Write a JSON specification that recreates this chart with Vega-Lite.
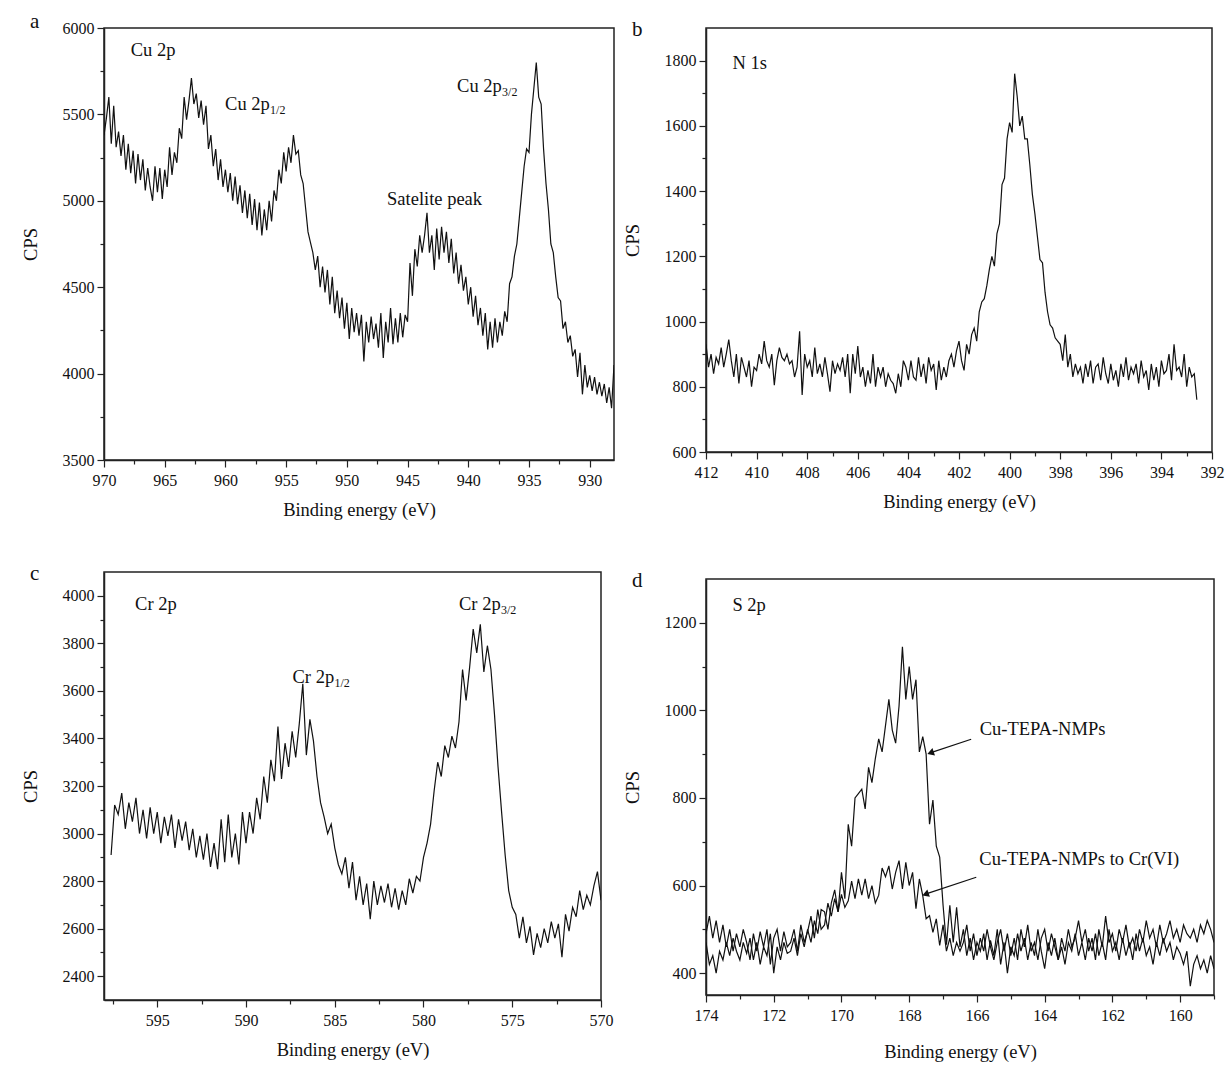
{
"$schema": "https://vega.github.io/schema/vega-lite/v6.json",
"background": "white",
"padding": {"left": 20, "top": 10, "right": 5, "bottom": 5},
"config": {
  "font": "Liberation Serif",
  "view": {"stroke": "#222", "strokeWidth": 1.5},
  "axis": {"grid": false, "domainColor": "#222", "domainWidth": 1.5, "tickColor": "#222", "tickWidth": 1.2, "labelFont": "Liberation Serif", "labelFontSize": 16, "labelColor": "#111", "titleFont": "Liberation Serif", "titleFontSize": 18.5, "titleFontWeight": "normal", "titleColor": "#111", "labelOverlap": false, "labelFlush": false},
  "title": {"font": "Liberation Serif", "fontSize": 21, "fontWeight": "normal", "anchor": "start", "frame": "bounds", "offset": 0, "baseline": "alphabetic", "dx": 9, "dy": 16, "color": "#111"},
  "line": {"color": "#111", "strokeWidth": 1.2},
  "text": {"font": "Liberation Serif", "color": "#111"}
},
"datasets": {
"a": [
{"e":970.0,"c":5380},{"e":969.8,"c":5480},{"e":969.6,"c":5600},{"e":969.4,"c":5330},{"e":969.2,"c":5550},{"e":969.0,"c":5310},{"e":968.8,"c":5400},{"e":968.6,"c":5260},{"e":968.4,"c":5380},{"e":968.2,"c":5180},{"e":968.0,"c":5330},{"e":967.8,"c":5160},{"e":967.6,"c":5290},{"e":967.4,"c":5100},{"e":967.2,"c":5270},{"e":967.0,"c":5120},{"e":966.8,"c":5240},{"e":966.6,"c":5060},{"e":966.4,"c":5190},{"e":966.2,"c":5080},{"e":966.0,"c":5000},{"e":965.8,"c":5200},{"e":965.6,"c":5050},{"e":965.4,"c":5190},{"e":965.2,"c":5010},{"e":965.0,"c":5180},{"e":964.8,"c":5080},{"e":964.6,"c":5310},{"e":964.4,"c":5150},{"e":964.2,"c":5280},{"e":964.0,"c":5220},{"e":963.8,"c":5420},{"e":963.6,"c":5360},{"e":963.4,"c":5600},{"e":963.2,"c":5470},{"e":963.0,"c":5580},{"e":962.8,"c":5710},{"e":962.6,"c":5560},{"e":962.4,"c":5620},{"e":962.2,"c":5480},{"e":962.0,"c":5580},{"e":961.8,"c":5440},{"e":961.6,"c":5550},{"e":961.4,"c":5300},{"e":961.2,"c":5380},{"e":961.0,"c":5200},{"e":960.8,"c":5300},{"e":960.6,"c":5120},{"e":960.4,"c":5240},{"e":960.2,"c":5080},{"e":960.0,"c":5180},
{"e":959.8,"c":5050},{"e":959.6,"c":5160},{"e":959.4,"c":5000},{"e":959.2,"c":5140},{"e":959.0,"c":4980},{"e":958.8,"c":5090},{"e":958.6,"c":4930},{"e":958.4,"c":5060},{"e":958.2,"c":4900},{"e":958.0,"c":5040},{"e":957.8,"c":4860},{"e":957.6,"c":5010},{"e":957.4,"c":4830},{"e":957.2,"c":4990},{"e":957.0,"c":4800},{"e":956.8,"c":4950},{"e":956.6,"c":4830},{"e":956.4,"c":5000},{"e":956.2,"c":4880},{"e":956.0,"c":5060},{"e":955.8,"c":5000},{"e":955.6,"c":5180},{"e":955.4,"c":5100},{"e":955.2,"c":5280},{"e":955.0,"c":5170},{"e":954.8,"c":5310},{"e":954.6,"c":5220},{"e":954.4,"c":5380},{"e":954.2,"c":5270},{"e":954.0,"c":5290},{"e":953.8,"c":5150},{"e":953.6,"c":5100},{"e":953.4,"c":4960},{"e":953.2,"c":4820},{"e":953.0,"c":4760},{"e":952.8,"c":4700},{"e":952.6,"c":4600},{"e":952.4,"c":4680},{"e":952.2,"c":4500},{"e":952.0,"c":4620},{"e":951.8,"c":4470},{"e":951.6,"c":4600},{"e":951.4,"c":4400},{"e":951.2,"c":4560},{"e":951.0,"c":4350},{"e":950.8,"c":4480},{"e":950.6,"c":4320},{"e":950.4,"c":4440},{"e":950.2,"c":4260},{"e":950.0,"c":4410},
{"e":949.8,"c":4200},{"e":949.6,"c":4380},{"e":949.4,"c":4240},{"e":949.2,"c":4350},{"e":949.0,"c":4220},{"e":948.8,"c":4340},{"e":948.6,"c":4070},{"e":948.4,"c":4300},{"e":948.2,"c":4180},{"e":948.0,"c":4330},{"e":947.8,"c":4200},{"e":947.6,"c":4290},{"e":947.4,"c":4150},{"e":947.2,"c":4350},{"e":947.0,"c":4090},{"e":946.8,"c":4300},{"e":946.6,"c":4180},{"e":946.4,"c":4380},{"e":946.2,"c":4170},{"e":946.0,"c":4320},{"e":945.8,"c":4180},{"e":945.6,"c":4350},{"e":945.4,"c":4210},{"e":945.2,"c":4340},{"e":945.0,"c":4300},{"e":944.8,"c":4640},{"e":944.6,"c":4450},{"e":944.4,"c":4720},{"e":944.2,"c":4620},{"e":944.0,"c":4800},{"e":943.8,"c":4700},{"e":943.6,"c":4800},{"e":943.4,"c":4930},{"e":943.2,"c":4700},{"e":943.0,"c":4800},{"e":942.8,"c":4600},{"e":942.6,"c":4840},{"e":942.4,"c":4660},{"e":942.2,"c":4850},{"e":942.0,"c":4700},{"e":941.8,"c":4820},{"e":941.6,"c":4640},{"e":941.4,"c":4780},{"e":941.2,"c":4580},{"e":941.0,"c":4700},{"e":940.8,"c":4520},{"e":940.6,"c":4630},{"e":940.4,"c":4480},{"e":940.2,"c":4560},{"e":940.0,"c":4400},
{"e":939.8,"c":4500},{"e":939.6,"c":4330},{"e":939.4,"c":4450},{"e":939.2,"c":4280},{"e":939.0,"c":4380},{"e":938.8,"c":4220},{"e":938.6,"c":4350},{"e":938.4,"c":4140},{"e":938.2,"c":4300},{"e":938.0,"c":4150},{"e":937.8,"c":4320},{"e":937.6,"c":4180},{"e":937.4,"c":4300},{"e":937.2,"c":4220},{"e":937.0,"c":4360},{"e":936.8,"c":4300},{"e":936.6,"c":4520},{"e":936.4,"c":4560},{"e":936.2,"c":4680},{"e":936.0,"c":4750},{"e":935.8,"c":4900},{"e":935.6,"c":5050},{"e":935.4,"c":5200},{"e":935.2,"c":5300},{"e":935.0,"c":5280},{"e":934.8,"c":5500},{"e":934.6,"c":5650},{"e":934.4,"c":5800},{"e":934.2,"c":5600},{"e":934.0,"c":5560},{"e":933.8,"c":5300},{"e":933.6,"c":5100},{"e":933.4,"c":4950},{"e":933.2,"c":4750},{"e":933.0,"c":4700},{"e":932.8,"c":4560},{"e":932.6,"c":4440},{"e":932.4,"c":4420},{"e":932.2,"c":4260},{"e":932.0,"c":4300},{"e":931.8,"c":4180},{"e":931.6,"c":4220},{"e":931.4,"c":4100},{"e":931.2,"c":4140},{"e":931.0,"c":3980},{"e":930.8,"c":4120},{"e":930.6,"c":3880},{"e":930.4,"c":4050},{"e":930.2,"c":3920},{"e":930.0,"c":3990},
{"e":929.8,"c":3900},{"e":929.6,"c":3980},{"e":929.4,"c":3880},{"e":929.2,"c":3950},{"e":929.0,"c":3870},{"e":928.8,"c":3940},{"e":928.6,"c":3830},{"e":928.4,"c":3920},{"e":928.2,"c":3800},{"e":928.0,"c":4050}
],
"ta": [{"e":967.8,"c":5872,"t":"Cu 2p"},{"e":960.03,"c":5558,"t":"Cu 2p"},{"e":946.69,"c":5011,"t":"Satelite peak"},{"e":940.92,"c":5667,"t":"Cu 2p"}],
"sa": [{"e":960.03,"c":5558,"t":"1/2"},{"e":940.92,"c":5667,"t":"3/2"}],
"b": [
{"e":412.0,"c":930},{"e":411.9,"c":860},{"e":411.8,"c":900},{"e":411.7,"c":840},{"e":411.6,"c":890},{"e":411.5,"c":870},{"e":411.4,"c":920},{"e":411.3,"c":860},{"e":411.2,"c":900},{"e":411.1,"c":945},{"e":411.0,"c":880},{"e":410.9,"c":830},{"e":410.8,"c":900},{"e":410.7,"c":810},{"e":410.6,"c":890},{"e":410.5,"c":860},{"e":410.4,"c":830},{"e":410.3,"c":880},{"e":410.2,"c":800},{"e":410.1,"c":860},{"e":410.0,"c":850},{"e":409.9,"c":900},{"e":409.8,"c":870},{"e":409.7,"c":940},{"e":409.6,"c":880},{"e":409.5,"c":860},{"e":409.4,"c":900},{"e":409.3,"c":805},{"e":409.2,"c":880},{"e":409.1,"c":920},{"e":409.0,"c":890},{"e":408.9,"c":880},{"e":408.8,"c":900},{"e":408.7,"c":870},{"e":408.6,"c":880},{"e":408.5,"c":830},{"e":408.4,"c":860},{"e":408.3,"c":970},{"e":408.2,"c":775},{"e":408.1,"c":900},{"e":408.0,"c":860},{"e":407.9,"c":880},{"e":407.8,"c":830},{"e":407.7,"c":920},{"e":407.6,"c":840},{"e":407.5,"c":870},{"e":407.4,"c":830},{"e":407.3,"c":890},{"e":407.2,"c":840},{"e":407.1,"c":785},
{"e":407.0,"c":880},{"e":406.9,"c":840},{"e":406.8,"c":870},{"e":406.7,"c":850},{"e":406.6,"c":890},{"e":406.5,"c":830},{"e":406.4,"c":900},{"e":406.3,"c":780},{"e":406.2,"c":900},{"e":406.1,"c":840},{"e":406.0,"c":925},{"e":405.9,"c":830},{"e":405.8,"c":860},{"e":405.7,"c":800},{"e":405.6,"c":850},{"e":405.5,"c":810},{"e":405.4,"c":900},{"e":405.3,"c":800},{"e":405.2,"c":860},{"e":405.1,"c":830},{"e":405.0,"c":860},{"e":404.9,"c":800},{"e":404.8,"c":840},{"e":404.7,"c":820},{"e":404.6,"c":810},{"e":404.5,"c":780},{"e":404.4,"c":840},{"e":404.3,"c":800},{"e":404.2,"c":880},{"e":404.1,"c":860},{"e":404.0,"c":820},{"e":403.9,"c":880},{"e":403.8,"c":830},{"e":403.7,"c":820},{"e":403.6,"c":890},{"e":403.5,"c":830},{"e":403.4,"c":870},{"e":403.3,"c":810},{"e":403.2,"c":890},{"e":403.1,"c":850},{"e":403.0,"c":870},{"e":402.9,"c":790},{"e":402.8,"c":880},{"e":402.7,"c":820},{"e":402.6,"c":860},{"e":402.5,"c":830},{"e":402.4,"c":880},{"e":402.3,"c":900},{"e":402.2,"c":860},{"e":402.1,"c":910},
{"e":402.0,"c":940},{"e":401.9,"c":880},{"e":401.8,"c":850},{"e":401.7,"c":930},{"e":401.6,"c":900},{"e":401.5,"c":960},{"e":401.4,"c":980},{"e":401.3,"c":940},{"e":401.2,"c":1030},{"e":401.1,"c":1060},{"e":401.0,"c":1070},{"e":400.9,"c":1110},{"e":400.8,"c":1160},{"e":400.7,"c":1200},{"e":400.6,"c":1170},{"e":400.5,"c":1270},{"e":400.4,"c":1300},{"e":400.3,"c":1420},{"e":400.2,"c":1440},{"e":400.1,"c":1560},{"e":400.0,"c":1610},{"e":399.9,"c":1580},{"e":399.8,"c":1760},{"e":399.7,"c":1690},{"e":399.6,"c":1600},{"e":399.5,"c":1630},{"e":399.4,"c":1560},{"e":399.3,"c":1560},{"e":399.2,"c":1480},{"e":399.1,"c":1390},{"e":399.0,"c":1330},{"e":398.9,"c":1260},{"e":398.8,"c":1190},{"e":398.7,"c":1180},{"e":398.6,"c":1090},{"e":398.5,"c":1030},{"e":398.4,"c":990},{"e":398.3,"c":980},{"e":398.2,"c":950},{"e":398.1,"c":940},{"e":398.0,"c":930},{"e":397.9,"c":880},{"e":397.8,"c":960},{"e":397.7,"c":860},{"e":397.6,"c":900},{"e":397.5,"c":830},{"e":397.4,"c":870},{"e":397.3,"c":840},{"e":397.2,"c":860},{"e":397.1,"c":810},
{"e":397.0,"c":870},{"e":396.9,"c":830},{"e":396.8,"c":880},{"e":396.7,"c":810},{"e":396.6,"c":860},{"e":396.5,"c":870},{"e":396.4,"c":820},{"e":396.3,"c":890},{"e":396.2,"c":840},{"e":396.1,"c":810},{"e":396.0,"c":870},{"e":395.9,"c":820},{"e":395.8,"c":850},{"e":395.7,"c":800},{"e":395.6,"c":870},{"e":395.5,"c":830},{"e":395.4,"c":890},{"e":395.3,"c":820},{"e":395.2,"c":860},{"e":395.1,"c":840},{"e":395.0,"c":870},{"e":394.9,"c":810},{"e":394.8,"c":880},{"e":394.7,"c":830},{"e":394.6,"c":850},{"e":394.5,"c":790},{"e":394.4,"c":870},{"e":394.3,"c":820},{"e":394.2,"c":860},{"e":394.1,"c":800},{"e":394.0,"c":880},{"e":393.9,"c":840},{"e":393.8,"c":850},{"e":393.7,"c":900},{"e":393.6,"c":820},{"e":393.5,"c":930},{"e":393.4,"c":850},{"e":393.3,"c":860},{"e":393.2,"c":830},{"e":393.1,"c":900},{"e":393.0,"c":800},{"e":392.9,"c":860},{"e":392.8,"c":830},{"e":392.7,"c":840},{"e":392.6,"c":760}
],
"tb": [{"e":410.95,"c":1793,"t":"N 1s"}],
"c": [
{"e":597.6,"c":2910},{"e":597.4,"c":3120},{"e":597.2,"c":3080},{"e":597.0,"c":3170},{"e":596.8,"c":3020},{"e":596.6,"c":3130},{"e":596.4,"c":3050},{"e":596.2,"c":3150},{"e":596.0,"c":3000},{"e":595.8,"c":3100},{"e":595.6,"c":2980},{"e":595.4,"c":3110},{"e":595.2,"c":3000},{"e":595.0,"c":3090},{"e":594.8,"c":2960},{"e":594.6,"c":3070},{"e":594.4,"c":2990},{"e":594.2,"c":3080},{"e":594.0,"c":2940},{"e":593.8,"c":3060},{"e":593.6,"c":2970},{"e":593.4,"c":3050},{"e":593.2,"c":2930},{"e":593.0,"c":3020},{"e":592.8,"c":2900},{"e":592.6,"c":2990},{"e":592.4,"c":2890},{"e":592.2,"c":3000},{"e":592.0,"c":2860},{"e":591.8,"c":2960},{"e":591.6,"c":2850},{"e":591.4,"c":3060},{"e":591.2,"c":2880},{"e":591.0,"c":3080},{"e":590.8,"c":2900},{"e":590.6,"c":3000},{"e":590.4,"c":2870},{"e":590.2,"c":3090},{"e":590.0,"c":2960},{"e":589.8,"c":3090},{"e":589.6,"c":3000},{"e":589.4,"c":3150},{"e":589.2,"c":3060},{"e":589.0,"c":3240},{"e":588.8,"c":3130},{"e":588.6,"c":3310},{"e":588.4,"c":3220},{"e":588.2,"c":3450},{"e":588.0,"c":3230},{"e":587.8,"c":3380},{"e":587.6,"c":3280},{"e":587.4,"c":3430},{"e":587.2,"c":3320},{"e":587.0,"c":3460},{"e":586.8,"c":3630},{"e":586.6,"c":3330},{"e":586.4,"c":3480},{"e":586.2,"c":3390},{"e":586.0,"c":3240},
{"e":585.8,"c":3130},{"e":585.6,"c":3070},{"e":585.4,"c":3000},{"e":585.2,"c":3040},{"e":585.0,"c":2940},{"e":584.8,"c":2870},{"e":584.6,"c":2830},{"e":584.4,"c":2900},{"e":584.2,"c":2770},{"e":584.0,"c":2880},{"e":583.8,"c":2720},{"e":583.6,"c":2820},{"e":583.4,"c":2700},{"e":583.2,"c":2790},{"e":583.0,"c":2640},{"e":582.8,"c":2800},{"e":582.6,"c":2700},{"e":582.4,"c":2780},{"e":582.2,"c":2710},{"e":582.0,"c":2790},{"e":581.8,"c":2690},{"e":581.6,"c":2770},{"e":581.4,"c":2680},{"e":581.2,"c":2760},{"e":581.0,"c":2700},{"e":580.8,"c":2810},{"e":580.6,"c":2750},{"e":580.4,"c":2820},{"e":580.2,"c":2800},{"e":580.0,"c":2900},{"e":579.8,"c":2960},{"e":579.6,"c":3040},{"e":579.4,"c":3180},{"e":579.2,"c":3300},{"e":579.0,"c":3240},{"e":578.8,"c":3370},{"e":578.6,"c":3320},{"e":578.4,"c":3410},{"e":578.2,"c":3360},{"e":578.0,"c":3470},{"e":577.8,"c":3690},{"e":577.6,"c":3560},{"e":577.4,"c":3700},{"e":577.2,"c":3860},{"e":577.0,"c":3760},{"e":576.8,"c":3880},{"e":576.6,"c":3680},{"e":576.4,"c":3790},{"e":576.2,"c":3690},{"e":576.0,"c":3500},
{"e":575.8,"c":3280},{"e":575.6,"c":3090},{"e":575.4,"c":2910},{"e":575.2,"c":2760},{"e":575.0,"c":2690},{"e":574.8,"c":2660},{"e":574.6,"c":2560},{"e":574.4,"c":2650},{"e":574.2,"c":2540},{"e":574.0,"c":2610},{"e":573.8,"c":2490},{"e":573.6,"c":2580},{"e":573.4,"c":2520},{"e":573.2,"c":2600},{"e":573.0,"c":2540},{"e":572.8,"c":2630},{"e":572.6,"c":2560},{"e":572.4,"c":2620},{"e":572.2,"c":2480},{"e":572.0,"c":2660},{"e":571.8,"c":2590},{"e":571.6,"c":2690},{"e":571.4,"c":2650},{"e":571.2,"c":2760},{"e":571.0,"c":2680},{"e":570.8,"c":2740},{"e":570.6,"c":2700},{"e":570.4,"c":2780},{"e":570.2,"c":2840},{"e":570.0,"c":2720}
],
"tc": [{"e":596.25,"c":3966,"t":"Cr 2p"},{"e":587.38,"c":3659,"t":"Cr 2p"},{"e":578.0,"c":3965,"t":"Cr 2p"}],
"sc": [{"e":587.38,"c":3659,"t":"1/2"},{"e":578.0,"c":3965,"t":"3/2"}],
"d1": [
{"e":174.0,"c":470},{"e":173.9,"c":420},{"e":173.8,"c":440},{"e":173.7,"c":400},{"e":173.6,"c":450},{"e":173.5,"c":430},{"e":173.4,"c":470},{"e":173.3,"c":440},{"e":173.2,"c":480},{"e":173.1,"c":450},{"e":173.0,"c":430},{"e":172.9,"c":470},{"e":172.8,"c":445},{"e":172.7,"c":480},{"e":172.6,"c":430},{"e":172.5,"c":470},{"e":172.4,"c":420},{"e":172.3,"c":460},{"e":172.2,"c":440},{"e":172.1,"c":490},{"e":172.0,"c":400},{"e":171.9,"c":460},{"e":171.8,"c":430},{"e":171.7,"c":470},{"e":171.6,"c":445},{"e":171.5,"c":450},{"e":171.4,"c":480},{"e":171.3,"c":440},{"e":171.2,"c":490},{"e":171.1,"c":460},{"e":171.0,"c":500},{"e":170.9,"c":470},{"e":170.8,"c":520},{"e":170.7,"c":490},{"e":170.6,"c":545},{"e":170.5,"c":540},{"e":170.4,"c":500},{"e":170.3,"c":560},{"e":170.2,"c":590},{"e":170.1,"c":540},{"e":170.0,"c":630},{"e":169.9,"c":570},{"e":169.8,"c":740},{"e":169.7,"c":690},{"e":169.6,"c":800},{"e":169.5,"c":810},{"e":169.4,"c":820},{"e":169.3,"c":775},{"e":169.2,"c":870},{"e":169.1,"c":835},{"e":169.0,"c":890},{"e":168.9,"c":935},{"e":168.8,"c":905},{"e":168.7,"c":965},{"e":168.6,"c":1025},{"e":168.5,"c":955},{"e":168.4,"c":925},{"e":168.3,"c":1010},{"e":168.2,"c":1145},{"e":168.1,"c":1025},{"e":168.0,"c":1100},{"e":167.9,"c":1025},{"e":167.8,"c":1070},{"e":167.7,"c":905},{"e":167.6,"c":940},{"e":167.5,"c":900},{"e":167.4,"c":740},{"e":167.3,"c":795},{"e":167.2,"c":690},{"e":167.1,"c":665},{"e":167.0,"c":555},{"e":166.9,"c":465},{"e":166.8,"c":555},{"e":166.7,"c":470},{"e":166.6,"c":550},{"e":166.5,"c":460},
{"e":166.4,"c":500},{"e":166.3,"c":440},{"e":166.2,"c":480},{"e":166.1,"c":430},{"e":166.0,"c":470},{"e":165.9,"c":450},{"e":165.8,"c":490},{"e":165.7,"c":430},{"e":165.6,"c":475},{"e":165.5,"c":440},{"e":165.4,"c":500},{"e":165.3,"c":420},{"e":165.2,"c":470},{"e":165.1,"c":400},{"e":165.0,"c":460},{"e":164.9,"c":440},{"e":164.8,"c":490},{"e":164.7,"c":450},{"e":164.6,"c":480},{"e":164.5,"c":430},{"e":164.4,"c":470},{"e":164.3,"c":440},{"e":164.2,"c":500},{"e":164.1,"c":450},{"e":164.0,"c":410},{"e":163.9,"c":470},{"e":163.8,"c":440},{"e":163.7,"c":480},{"e":163.6,"c":430},{"e":163.5,"c":460},{"e":163.4,"c":420},{"e":163.3,"c":470},{"e":163.2,"c":450},{"e":163.1,"c":490},{"e":163.0,"c":440},{"e":162.9,"c":470},{"e":162.8,"c":430},{"e":162.7,"c":480},{"e":162.6,"c":450},{"e":162.5,"c":490},{"e":162.4,"c":440},{"e":162.3,"c":470},{"e":162.2,"c":430},{"e":162.1,"c":500},{"e":162.0,"c":450},{"e":161.9,"c":470},{"e":161.8,"c":430},{"e":161.7,"c":480},{"e":161.6,"c":440},{"e":161.5,"c":470},{"e":161.4,"c":430},{"e":161.3,"c":490},{"e":161.2,"c":450},{"e":161.1,"c":480},{"e":161.0,"c":440},{"e":160.9,"c":460},{"e":160.8,"c":420},{"e":160.7,"c":470},{"e":160.6,"c":440},{"e":160.5,"c":480},{"e":160.4,"c":450},{"e":160.3,"c":470},{"e":160.2,"c":430},{"e":160.1,"c":460},{"e":160.0,"c":445},{"e":159.9,"c":420},{"e":159.8,"c":450},{"e":159.7,"c":370},{"e":159.6,"c":420},{"e":159.5,"c":440},{"e":159.4,"c":410},{"e":159.3,"c":430},{"e":159.2,"c":400},{"e":159.1,"c":440},{"e":159.0,"c":410}
],
"d2": [
{"e":174.0,"c":490},{"e":173.9,"c":530},{"e":173.8,"c":480},{"e":173.7,"c":520},{"e":173.6,"c":470},{"e":173.5,"c":510},{"e":173.4,"c":460},{"e":173.3,"c":500},{"e":173.2,"c":450},{"e":173.1,"c":490},{"e":173.0,"c":460},{"e":172.9,"c":500},{"e":172.8,"c":470},{"e":172.7,"c":430},{"e":172.6,"c":490},{"e":172.5,"c":450},{"e":172.4,"c":495},{"e":172.3,"c":460},{"e":172.2,"c":500},{"e":172.1,"c":420},{"e":172.0,"c":480},{"e":171.9,"c":500},{"e":171.8,"c":450},{"e":171.7,"c":495},{"e":171.6,"c":460},{"e":171.5,"c":470},{"e":171.4,"c":500},{"e":171.3,"c":450},{"e":171.2,"c":510},{"e":171.1,"c":470},{"e":171.0,"c":495},{"e":170.9,"c":530},{"e":170.8,"c":480},{"e":170.7,"c":545},{"e":170.6,"c":500},{"e":170.5,"c":510},{"e":170.4,"c":560},{"e":170.3,"c":530},{"e":170.2,"c":570},{"e":170.1,"c":540},{"e":170.0,"c":580},{"e":169.9,"c":550},{"e":169.8,"c":565},{"e":169.7,"c":610},{"e":169.6,"c":570},{"e":169.5,"c":615},{"e":169.4,"c":578},{"e":169.3,"c":615},{"e":169.2,"c":570},{"e":169.1,"c":600},{"e":169.0,"c":560},{"e":168.9,"c":578},{"e":168.8,"c":640},{"e":168.7,"c":620},{"e":168.6,"c":645},{"e":168.5,"c":592},{"e":168.4,"c":630},{"e":168.3,"c":657},{"e":168.2,"c":592},{"e":168.1,"c":653},{"e":168.0,"c":600},{"e":167.9,"c":630},{"e":167.8,"c":547},{"e":167.7,"c":615},{"e":167.6,"c":577},{"e":167.5,"c":524},{"e":167.4,"c":531},{"e":167.3,"c":493},{"e":167.2,"c":524},{"e":167.1,"c":463},{"e":167.0,"c":510},{"e":166.9,"c":450},{"e":166.8,"c":480},{"e":166.7,"c":440},{"e":166.6,"c":470},{"e":166.5,"c":450},
{"e":166.4,"c":470},{"e":166.3,"c":510},{"e":166.2,"c":450},{"e":166.1,"c":490},{"e":166.0,"c":440},{"e":165.9,"c":480},{"e":165.8,"c":450},{"e":165.7,"c":500},{"e":165.6,"c":460},{"e":165.5,"c":430},{"e":165.4,"c":470},{"e":165.3,"c":500},{"e":165.2,"c":450},{"e":165.1,"c":490},{"e":165.0,"c":440},{"e":164.9,"c":480},{"e":164.8,"c":430},{"e":164.7,"c":500},{"e":164.6,"c":460},{"e":164.5,"c":510},{"e":164.4,"c":450},{"e":164.3,"c":470},{"e":164.2,"c":430},{"e":164.1,"c":480},{"e":164.0,"c":500},{"e":163.9,"c":450},{"e":163.8,"c":490},{"e":163.7,"c":460},{"e":163.6,"c":430},{"e":163.5,"c":480},{"e":163.4,"c":450},{"e":163.3,"c":500},{"e":163.2,"c":460},{"e":163.1,"c":480},{"e":163.0,"c":520},{"e":162.9,"c":470},{"e":162.8,"c":500},{"e":162.7,"c":450},{"e":162.6,"c":480},{"e":162.5,"c":430},{"e":162.4,"c":500},{"e":162.3,"c":460},{"e":162.2,"c":530},{"e":162.1,"c":470},{"e":162.0,"c":490},{"e":161.9,"c":450},{"e":161.8,"c":500},{"e":161.7,"c":470},{"e":161.6,"c":510},{"e":161.5,"c":460},{"e":161.4,"c":480},{"e":161.3,"c":450},{"e":161.2,"c":500},{"e":161.1,"c":470},{"e":161.0,"c":520},{"e":160.9,"c":480},{"e":160.8,"c":500},{"e":160.7,"c":460},{"e":160.6,"c":510},{"e":160.5,"c":470},{"e":160.4,"c":490},{"e":160.3,"c":520},{"e":160.2,"c":480},{"e":160.1,"c":500},{"e":160.0,"c":470},{"e":159.9,"c":510},{"e":159.8,"c":490},{"e":159.7,"c":480},{"e":159.6,"c":500},{"e":159.5,"c":470},{"e":159.4,"c":510},{"e":159.3,"c":490},{"e":159.2,"c":520},{"e":159.1,"c":500},{"e":159.0,"c":470}
],
"td": [{"e":173.22,"c":1240,"t":"S 2p"},{"e":165.92,"c":957,"t":"Cu-TEPA-NMPs"},{"e":165.93,"c":660,"t":"Cu-TEPA-NMPs to Cr(VI)"}],
"arr": [{"e":166.17,"c":934,"e2":167.38,"c2":903},{"e":166.02,"c":619,"e2":167.5,"c2":581}],
"ah": [{"e":167.37,"c":903},{"e":167.52,"c":580}]
},
"spacing": 7,
"hconcat": [
{"spacing": 42, "vconcat": [
 {"title": "a", "width": 510, "height": 432,
  "encoding": {
   "x": {"field": "e", "type": "quantitative", "scale": {"domain": [928, 970], "reverse": true, "nice": false, "zero": false},
     "axis": {"title": "Binding energy (eV)", "values": [970,967.5,965,962.5,960,957.5,955,952.5,950,947.5,945,942.5,940,937.5,935,932.5,930], "format": "d", "labelExpr": "datum.value % 5 === 0 ? datum.label : ''", "tickSize": {"condition": {"test": "datum.value % 5 === 0", "value": 7}, "value": 4}, "labelPadding": 5, "titlePadding": 12}},
   "y": {"field": "c", "type": "quantitative", "scale": {"domain": [3500, 6000], "nice": false, "zero": false},
     "axis": {"title": "CPS", "values": [3500,3750,4000,4250,4500,4750,5000,5250,5500,5750,6000], "format": "d", "labelExpr": "datum.value % 500 === 0 ? datum.label : ''", "tickSize": {"condition": {"test": "datum.value % 500 === 0", "value": 7}, "value": 4}, "labelPadding": 3, "titlePadding": 22}}
  },
  "layer": [
   {"data": {"name": "a"}, "mark": {"type": "line", "clip": true}},
   {"data": {"name": "ta"}, "mark": {"type": "text", "align": "left", "baseline": "middle", "fontSize": 18.5}, "encoding": {"text": {"field": "t"}}},
   {"data": {"name": "sa"}, "mark": {"type": "text", "align": "left", "baseline": "middle", "fontSize": 12, "dx": 45, "dy": 6}, "encoding": {"text": {"field": "t"}}}
  ]},
 {"title": "c", "width": 497, "height": 428,
  "encoding": {
   "x": {"field": "e", "type": "quantitative", "scale": {"domain": [570, 598], "reverse": true, "nice": false, "zero": false},
     "axis": {"title": "Binding energy (eV)", "values": [597.5,595,592.5,590,587.5,585,582.5,580,577.5,575,572.5,570], "format": "d", "labelExpr": "datum.value % 5 === 0 ? datum.label : ''", "tickSize": {"condition": {"test": "datum.value % 5 === 0", "value": 7}, "value": 4}, "labelPadding": 5, "titlePadding": 12}},
   "y": {"field": "c", "type": "quantitative", "scale": {"domain": [2300, 4100], "nice": false, "zero": false},
     "axis": {"title": "CPS", "values": [2400,2500,2600,2700,2800,2900,3000,3100,3200,3300,3400,3500,3600,3700,3800,3900,4000], "format": "d", "labelExpr": "datum.value % 200 === 0 ? datum.label : ''", "tickSize": {"condition": {"test": "datum.value % 200 === 0", "value": 7}, "value": 4}, "labelPadding": 3, "titlePadding": 22}}
  },
  "layer": [
   {"data": {"name": "c"}, "mark": {"type": "line", "clip": true}},
   {"data": {"name": "tc"}, "mark": {"type": "text", "align": "left", "baseline": "middle", "fontSize": 18.5}, "encoding": {"text": {"field": "t"}}},
   {"data": {"name": "sc"}, "mark": {"type": "text", "align": "left", "baseline": "middle", "fontSize": 12, "dx": 42, "dy": 6}, "encoding": {"text": {"field": "t"}}}
  ]}
]},
{"spacing": 57, "vconcat": [
 {"title": "b", "width": 506, "height": 424,
  "encoding": {
   "x": {"field": "e", "type": "quantitative", "scale": {"domain": [392, 412], "reverse": true, "nice": false, "zero": false},
     "axis": {"title": "Binding energy (eV)", "values": [412,411,410,409,408,407,406,405,404,403,402,401,400,399,398,397,396,395,394,393,392], "format": "d", "labelExpr": "datum.value % 2 === 0 ? datum.label : ''", "tickSize": {"condition": {"test": "datum.value % 2 === 0", "value": 7}, "value": 4}, "labelPadding": 5, "titlePadding": 12}},
   "y": {"field": "c", "type": "quantitative", "scale": {"domain": [600, 1900], "nice": false, "zero": false},
     "axis": {"title": "CPS", "values": [600,700,800,900,1000,1100,1200,1300,1400,1500,1600,1700,1800], "format": "d", "labelExpr": "datum.value % 200 === 0 ? datum.label : ''", "tickSize": {"condition": {"test": "datum.value % 200 === 0", "value": 7}, "value": 4}, "labelPadding": 3, "titlePadding": 22}}
  },
  "layer": [
   {"data": {"name": "b"}, "mark": {"type": "line", "clip": true}},
   {"data": {"name": "tb"}, "mark": {"type": "text", "align": "left", "baseline": "middle", "fontSize": 18.5}, "encoding": {"text": {"field": "t"}}}
  ]},
 {"title": "d", "width": 508, "height": 416,
  "encoding": {
   "x": {"field": "e", "type": "quantitative", "scale": {"domain": [159, 174], "reverse": true, "nice": false, "zero": false},
     "axis": {"title": "Binding energy (eV)", "values": [174,173,172,171,170,169,168,167,166,165,164,163,162,161,160,159], "format": "d", "labelExpr": "datum.value % 2 === 0 ? datum.label : ''", "tickSize": {"condition": {"test": "datum.value % 2 === 0", "value": 7}, "value": 4}, "labelPadding": 5, "titlePadding": 19}},
   "y": {"field": "c", "type": "quantitative", "scale": {"domain": [350, 1300], "nice": false, "zero": false},
     "axis": {"title": "CPS", "values": [400,500,600,700,800,900,1000,1100,1200], "format": "d", "labelExpr": "datum.value % 200 === 0 ? datum.label : ''", "tickSize": {"condition": {"test": "datum.value % 200 === 0", "value": 7}, "value": 4}, "labelPadding": 3, "titlePadding": 22}}
  },
  "layer": [
   {"data": {"name": "d1"}, "mark": {"type": "line", "clip": true}},
   {"data": {"name": "d2"}, "mark": {"type": "line", "clip": true}},
   {"data": {"name": "arr"}, "mark": {"type": "rule", "color": "#111", "strokeWidth": 1.2}, "encoding": {"x2": {"field": "e2"}, "y2": {"field": "c2"}}},
   {"data": {"name": "ah"}, "mark": {"type": "point", "shape": "triangle-right", "angle": 161, "size": 60, "filled": true, "color": "#111", "opacity": 1}},
   {"data": {"name": "td"}, "mark": {"type": "text", "align": "left", "baseline": "middle", "fontSize": 18.5}, "encoding": {"text": {"field": "t"}}}
  ]}
]}
]
}
